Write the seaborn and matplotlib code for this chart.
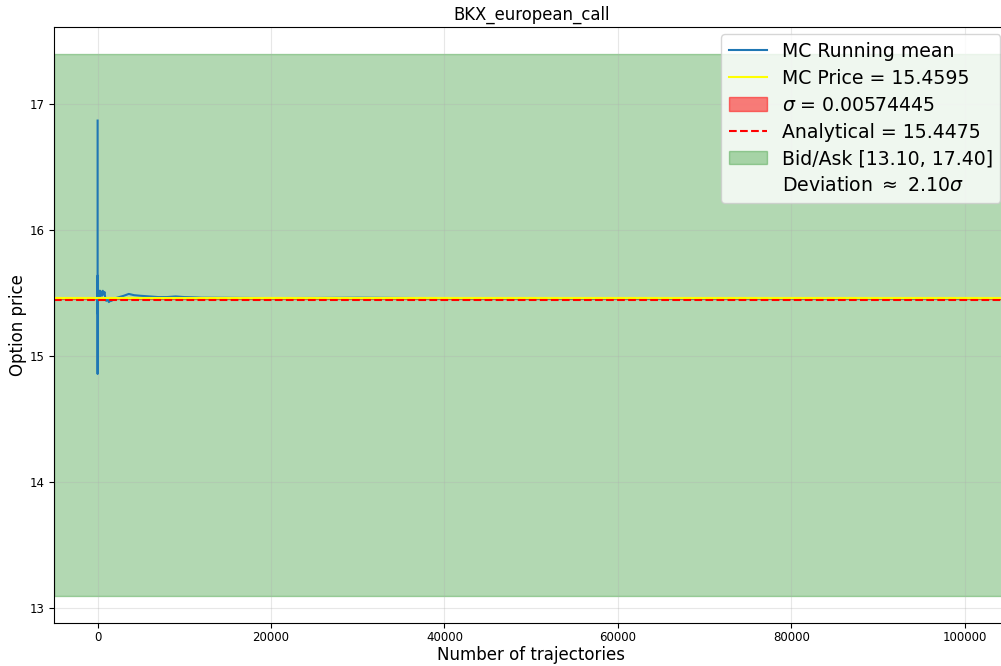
import numpy as np
import matplotlib
matplotlib.use("Agg")
import matplotlib.pyplot as plt
import seaborn as sns


OUTPUT_PATH = "out.png"

# Running mean of the Monte Carlo estimate
trajectories = [
    1, 2, 3, 4, 6, 10, 15, 25, 40, 60, 100, 150, 200, 250, 300, 400, 500,
    600, 700, 800, 900, 1000, 1150, 1300, 1450, 1600, 2000, 2500, 3000,
    3600, 4200, 5000, 6000, 7000, 8000, 9000, 10000, 11000, 12000, 15000,
    20000, 25000, 30000, 35000, 40000, 50000, 60000, 70000, 80000, 90000,
    100000,
]
running_mean = [
    16.87, 14.86, 15.64, 15.34, 15.55, 15.40, 15.53, 15.45, 15.52, 15.47,
    15.51, 15.49, 15.52, 15.47, 15.52, 15.50, 15.48, 15.52, 15.49, 15.51,
    15.45, 15.44, 15.45, 15.43, 15.44, 15.44, 15.46, 15.47, 15.48, 15.495,
    15.485, 15.48, 15.475, 15.47, 15.47, 15.475, 15.47, 15.468, 15.465,
    15.464, 15.462, 15.463, 15.465, 15.463, 15.461, 15.460, 15.460,
    15.4598, 15.4597, 15.4596, 15.4595,
]

mc_price = 15.4595
sigma = 0.00574445
analytical = 15.4475
bid_ask = [13.10, 17.40]
deviation = 2.10


def plot_running_mean():

    fig = plt.figure(figsize=(10.01, 6.66), dpi=100)
    ax = fig.add_axes([0.0542, 0.0646, 0.9528, 0.8954])

    sns.lineplot(
        x=trajectories,
        y=running_mean,
        estimator=None,
        linewidth=1.5,
        label="MC Running mean",
        ax=ax
    )

    ax.axhline(mc_price, color="yellow", linewidth=1.5,
               label=f"MC Price = {mc_price:.4f}")

    ax.axhspan(mc_price - sigma, mc_price + sigma, color="red", alpha=0.5,
               label=f"$\\sigma$ = {sigma:.8f}")

    ax.axhline(analytical, color="red", linestyle="--", linewidth=1.5,
               label=f"Analytical = {analytical:.4f}")

    ax.axhspan(bid_ask[0], bid_ask[1], color="green", alpha=0.3,
               label=f"Bid/Ask [{bid_ask[0]:.2f}, {bid_ask[1]:.2f}]")

    ax.plot([], [], " ", label=f"Deviation $\\approx$ {deviation:.2f}$\\sigma$")

    ax.set_title("BKX_european_call", fontsize=11.9, pad=5)
    ax.set_xlabel("Number of trajectories", fontsize=12, labelpad=1.5)
    ax.set_ylabel("Option price", fontsize=12, labelpad=1.5)
    ax.tick_params(labelsize=8.5)
    ax.tick_params(axis="x", pad=2.5)
    ax.grid(alpha=0.3)
    ax.legend(loc="upper right", fontsize=13.6, labelspacing=0.42,
              borderaxespad=0.4)

    fig.savefig(OUTPUT_PATH, dpi=100)


if __name__ == "__main__":

    plot_running_mean()
